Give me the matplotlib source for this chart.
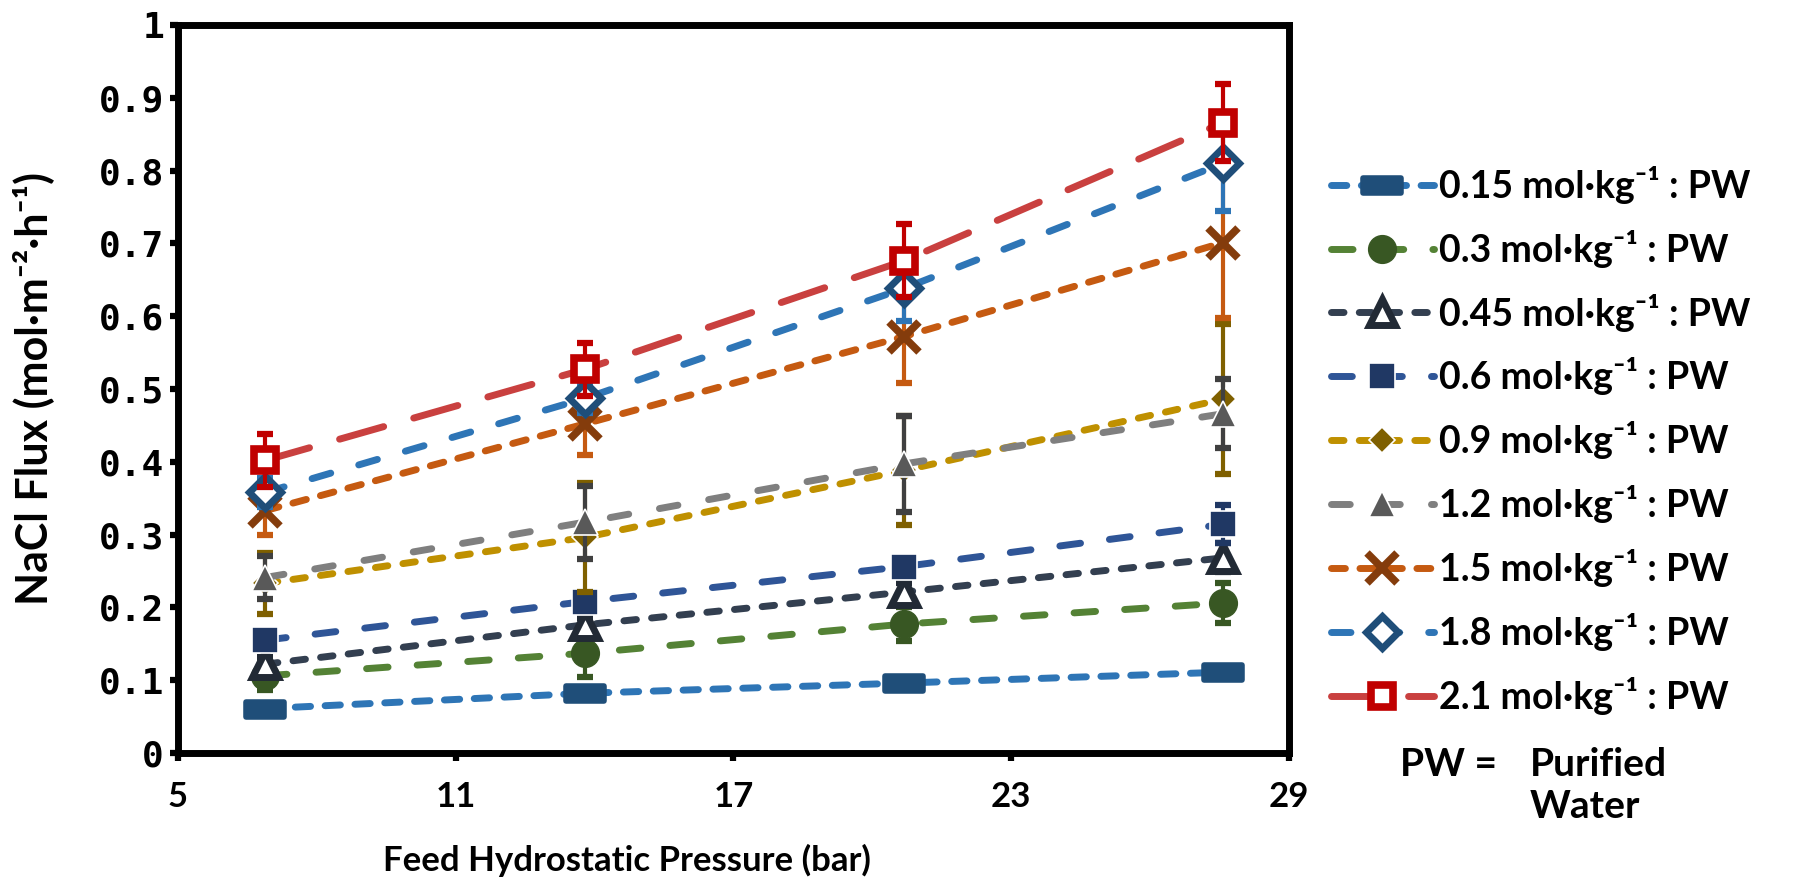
import matplotlib
matplotlib.use("Agg")
import matplotlib.pyplot as plt
from matplotlib.path import Path
from matplotlib.markers import MarkerStyle

# feed pressure (bar) -- 100, 200, 300, 400 psi
pressure = [6.89, 13.79, 20.68, 27.58]

labels = [
    "0.15 mol·kg⁻¹ : PW",
    "0.3 mol·kg⁻¹ : PW",
    "0.45 mol·kg⁻¹ : PW",
    "0.6 mol·kg⁻¹ : PW",
    "0.9 mol·kg⁻¹ : PW",
    "1.2 mol·kg⁻¹ : PW",
    "1.5 mol·kg⁻¹ : PW",
    "1.8 mol·kg⁻¹ : PW",
    "2.1 mol·kg⁻¹ : PW",
]

flux_015 = [0.061, 0.082, 0.096, 0.111]
flux_03 = [0.106, 0.137, 0.177, 0.206]
flux_045 = [0.122, 0.176, 0.221, 0.268]
flux_06 = [0.155, 0.208, 0.256, 0.314]
flux_09 = [0.233, 0.296, 0.388, 0.486]
flux_12 = [0.241, 0.317, 0.397, 0.466]
flux_15 = [0.333, 0.452, 0.572, 0.701]
flux_18 = [0.358, 0.487, 0.638, 0.810]
flux_21 = [0.402, 0.527, 0.676, 0.866]

err_015 = [0.004, 0.005, 0.005, 0.006]
err_03 = [0.02, 0.032, 0.023, 0.027]
err_045 = [0.01, 0.01, 0.012, 0.02]
err_06 = [0.01, 0.012, 0.012, 0.026]
err_09 = [0.042, 0.075, 0.075, 0.103]
err_12 = [0.03, 0.05, 0.066, 0.047]
err_15 = [0.033, 0.043, 0.064, 0.103]
err_18 = [0.02, 0.02, 0.045, 0.065]
err_21 = [0.036, 0.036, 0.05, 0.053]

xticks = [5, 11, 17, 23, 29]
yticks = [0, 0.1, 0.2, 0.3, 0.4, 0.5, 0.6, 0.7, 0.8, 0.9, 1]
ytick_labels = ["0", "0.1", "0.2", "0.3", "0.4", "0.5", "0.6", "0.7", "0.8", "0.9", "1"]

plt.rcParams["font.family"] = ["Lato", "DejaVu Sans"]
plt.rcParams["font.weight"] = "bold"
plt.rcParams["lines.scale_dashes"] = False

# wide rounded bar used as the 0.15 marker
bar = Path([(-1, -0.4), (1, -0.4), (1, 0.4), (-1, 0.4), (-1, -0.4)],
           [Path.MOVETO, Path.LINETO, Path.LINETO, Path.LINETO, Path.CLOSEPOLY])
bar_marker = MarkerStyle(bar, joinstyle="round")

series = [
    # y, err, line colour, dashes, marker, size, face, edge, mew, bar colour
    (flux_015, err_015, "#2E75B6", (11, 10.5), bar_marker, 27, "#1F4E79", "#1F4E79", 4, "#1F4E79"),
    (flux_03, err_03, "#548235", (15.5, 21), "o", 20, "#385723", "#385723", 1, "#385723"),
    (flux_045, err_045, "#333F50", (9, 11), "^", 19, "white", "#222A35", 5, "#222A35"),
    (flux_06, err_06, "#2F5597", (15, 21), "s", 19, "#203864", "white", 1.2, "#203864"),
    (flux_09, err_09, "#BF9000", (9, 11), "D", 13, "#7F6000", "white", 1.2, "#7F6000"),
    (flux_12, err_12, "#7F7F7F", (13.5, 22.5), "^", 19, "#595959", "white", 1.2, "#404040"),
    (flux_15, err_15, "#C55A11", (10, 10.5), "x", 22, "#843C0C", "#843C0C", 5.5, "#C55A11"),
    (flux_18, err_18, "#2E75B6", (14, 21), "D", 16, "white", "#1F4E79", 5, "#2E75B6"),
    (flux_21, err_21, "#C9403F", (33, 22.5), "s", 16, "white", "#C00000", 5.5, "#C00000"),
]

fig = plt.figure(figsize=(18.03, 8.82), dpi=100)
ax = fig.add_axes([0.0987, 0.1463, 0.6162, 0.8254])

for k, (y, e, lc, dash, mk, ms, fc, ec, mew, bc) in enumerate(series):
    z = 3 + k
    ax.errorbar(pressure, y, yerr=e, fmt="none", ecolor=bc, elinewidth=3,
                capsize=6, capthick=4.5, zorder=z)
    ax.plot(pressure, y, color=lc, lw=5, dashes=dash, dash_capstyle="round",
            marker=mk, markersize=ms, markerfacecolor=fc, markeredgecolor=ec,
            markeredgewidth=mew, label=labels[k], zorder=z)

ax.set_xlim(5, 29)
ax.set_ylim(0, 1)
ax.set_xticks(xticks)
ax.set_xticklabels([str(v) for v in xticks], fontsize=25)
ax.set_yticks(yticks)
ax.set_yticklabels(ytick_labels, fontfamily="DejaVu Sans Mono", fontweight="bold",
                   fontsize=26)

for s in ax.spines.values():
    s.set_linewidth(5)
ax.tick_params(axis="both", direction="out", length=6, width=4.5)
ax.tick_params(axis="x", pad=14)
ax.tick_params(axis="y", pad=4)

ax.set_xlabel("Feed Hydrostatic Pressure (bar)", fontsize=25, fontweight="bold",
              va="center")
ax.set_ylabel("NaCl Flux (mol·m⁻²·h⁻¹)", fontsize=31, fontweight="bold",
              va="center")
ax.xaxis.set_label_coords(0.404, -0.147)
ax.yaxis.set_label_coords(-0.13, 0.5)

fig.legend(loc="upper left", bbox_to_anchor=(0.738, 0.812), frameon=False,
           fontsize=27, handlelength=2.75, handletextpad=0.15, labelspacing=0.69,
           borderpad=0, borderaxespad=0, numpoints=1)

fig.text(1400 / 1803, 1 - 765 / 882, "PW =", fontsize=28, fontweight="bold", va="center")
fig.text(1530 / 1803, 1 - 765 / 882, "Purified", fontsize=28, fontweight="bold", va="center")
fig.text(1530 / 1803, 1 - 806 / 882, "Water", fontsize=28, fontweight="bold", va="center")

fig.savefig("out.png", dpi=100)
